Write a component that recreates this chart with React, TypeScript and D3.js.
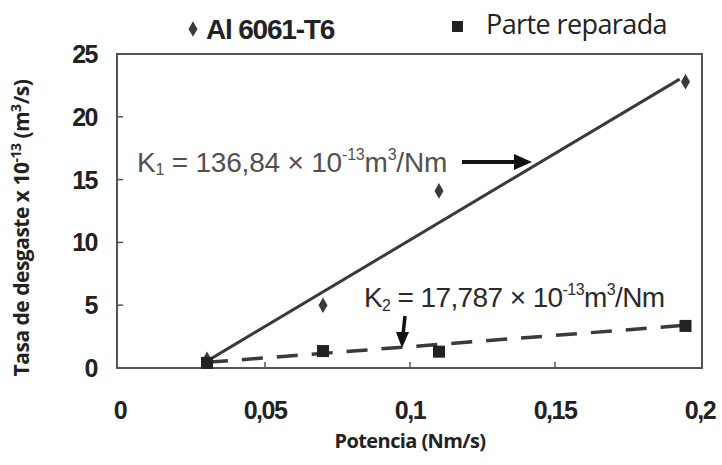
import React from "react";
import * as d3 from "d3";

// Al 6061-T6 (diamonds) and parte reparada (squares)
const potencia = [0.03, 0.07, 0.11, 0.195];
const alValues = [0.7, 5.0, 14.1, 22.8];
const reparadaValues = [0.4, 1.35, 1.3, 3.35];

// trend lines (start / end)
const alTrend = [[0.03, 0.55], [0.193, 23.0]];
const reparadaTrend = [[0.03, 0.45], [0.195, 3.4]];

const xTicks = [0, 0.05, 0.1, 0.15, 0.2];
const xTickLabels = ["0", "0,05", "0,1", "0,15", "0,2"];
const yTicks = [0, 5, 10, 15, 20, 25];

const W = 722;
const H = 465;

const App = () => {
  const x = d3.scaleLinear().domain([0, 0.2]).range([120, 700]);
  const y = d3.scaleLinear().domain([0, 25]).range([368, 54]);

  const line = d3.line<number[]>()
    .x(d => x(d[0]))
    .y(d => y(d[1]));

  const diamond = d3.symbol().type(d3.symbolDiamond).size(70)();
  const ink = "#3a3a3a";
  const arial = "'Liberation Sans', Arial, sans-serif";
  const openSans = "'Open Sans', 'Noto Sans', sans-serif";

  return (
    <svg width={W} height={H} style={{ position: "absolute", left: 0, top: 0, background: "#fff" }}>
      {/* frame */}
      <rect x={117} y={54} width={585} height={314} fill="none" stroke="#555" strokeWidth={2} />

      {/* y ticks */}
      {yTicks.map(t => (
        <g key={"y" + t}>
          <line x1={117} x2={123} y1={y(t)} y2={y(t)} stroke="#555" strokeWidth={1.5} />
          <text x={97} y={y(t) + 9} textAnchor="end" fontFamily={arial} fontWeight="bold"
            fontSize={25} fill="#222" letterSpacing={-1.5}>{t}</text>
        </g>
      ))}

      {/* x ticks */}
      {xTicks.map((t, i) => (
        <g key={"x" + t}>
          {i > 0 && i < xTicks.length - 1 &&
            <line x1={x(t)} x2={x(t)} y1={368} y2={362} stroke="#555" strokeWidth={1.5} />}
          <text x={x(t)} y={419} textAnchor="middle" fontFamily={arial} fontWeight="bold"
            fontSize={25} fill="#222" letterSpacing={-1.5}>{xTickLabels[i]}</text>
        </g>
      ))}

      {/* trend lines */}
      <path d={line(alTrend) || ""} fill="none" stroke={ink} strokeWidth={3} />
      <path d={line(reparadaTrend) || ""} fill="none" stroke={ink} strokeWidth={3.5} strokeDasharray="21 14" />

      {/* points */}
      {potencia.map((p, i) => (
        <path key={"a" + i} d={diamond || ""} transform={`translate(${x(p)},${y(alValues[i])})`} fill={ink} />
      ))}
      {potencia.map((p, i) => (
        <rect key={"r" + i} x={x(p) - 6} y={y(reparadaValues[i]) - 6} width={12} height={12} fill="#222" />
      ))}

      {/* K1 annotation */}
      <text x={137} y={172} fontFamily={arial} fontSize={28} fill="#505050" letterSpacing={-0.2}>
        K<tspan fontSize={16} dy={3}>1</tspan><tspan dy={-3}> = 136,84 × 10</tspan>
        <tspan fontSize={16} dy={-12}>-13</tspan><tspan dy={12}>m</tspan>
        <tspan fontSize={16} dy={-12}>3</tspan><tspan dy={12}>/Nm</tspan>
      </text>
      <line x1={462} x2={518} y1={162} y2={162} stroke="#111" strokeWidth={4} />
      <path d="M532,162 L514,154 L514,170 Z" fill="#111" />

      {/* K2 annotation */}
      <text x={364} y={307} fontFamily={arial} fontSize={28} fill="#2a2a2a" letterSpacing={-0.6}>
        K<tspan fontSize={16} dy={4}>2</tspan><tspan dy={-4}> = 17,787 × 10</tspan>
        <tspan fontSize={16} dy={-12}>-13</tspan><tspan dy={12}>m</tspan>
        <tspan fontSize={16} dy={-12}>3</tspan><tspan dy={12}>/Nm</tspan>
      </text>
      <line x1={405} x2={403} y1={316} y2={335} stroke="#111" strokeWidth={3.5} />
      <path d="M402,348 L396,332 L409,332 Z" fill="#111" />

      {/* legend */}
      <path d={diamond || ""} transform="translate(193,29)" fill={ink} />
      <text x={206} y={39} fontFamily={arial} fontSize={28} fill="#222" letterSpacing={-1.2}
        fontWeight="bold">Al 6061-T6</text>
      <rect x={452} y={21} width={11} height={11} fill="#222" />
      <text x={486} y={34} fontFamily={openSans} fontSize={27} fill="#222"
        letterSpacing={-0.6}>Parte reparada</text>

      {/* axis titles */}
      <text transform="translate(29,228) rotate(-90)" textAnchor="middle"
        fontFamily={openSans} fontWeight="bold" fontSize={21} fill="#222" letterSpacing={-0.5}>
        Tasa de desgaste x 10<tspan fontSize={14} dy={-8}>-13</tspan><tspan dy={8}> (m</tspan>
        <tspan fontSize={14} dy={-8}>3</tspan><tspan dy={8}>/s)</tspan>
      </text>
      <text x={410} y={448} textAnchor="middle" fontFamily={openSans}
        fontWeight="bold" fontSize={20} fill="#222" letterSpacing={-0.6}>Potencia (Nm/s)</text>
    </svg>
  );
};

export default App;
